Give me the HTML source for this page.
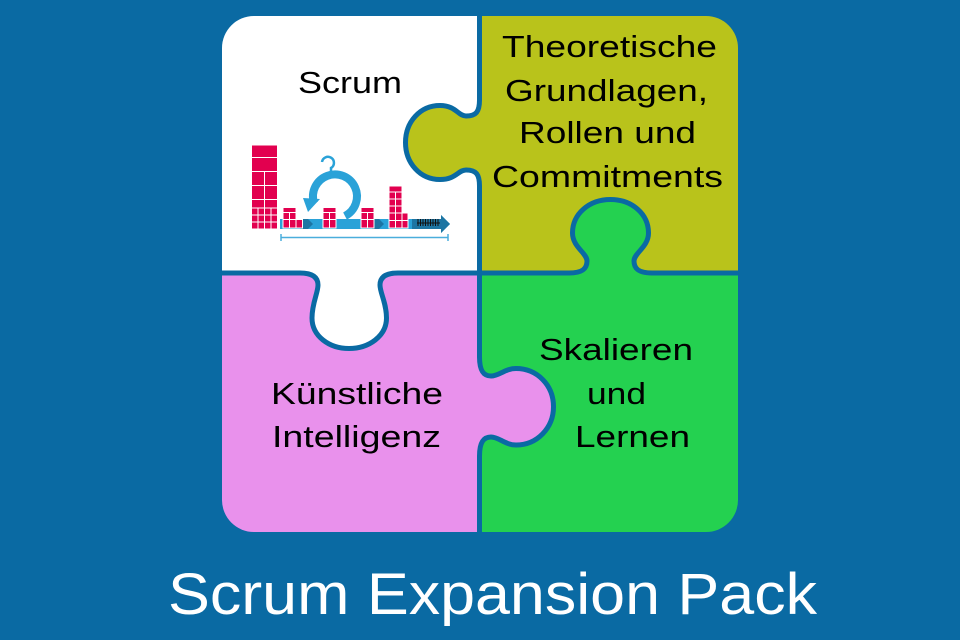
<!DOCTYPE html>
<html>
<head>
<meta charset="utf-8">
<style>
  html,body{margin:0;padding:0;background:#0a6aa3;}
  svg{display:block;}
  text{font-family:"Liberation Sans", Arial, sans-serif;}
</style>
</head>
<body>
<svg width="960" height="640" viewBox="0 0 960 640" xmlns="http://www.w3.org/2000/svg">
  <defs>
    <clipPath id="board">
      <rect x="222" y="16" width="516" height="516" rx="32" ry="32"/>
    </clipPath>
  </defs>
  <rect x="0" y="0" width="960" height="640" fill="#0a6aa3"/>

  <g clip-path="url(#board)">
    <!-- quadrants -->
    <rect x="222" y="16" width="258" height="258" fill="#ffffff"/>
    <rect x="480" y="16" width="258" height="258" fill="#b9c31b"/>
    <rect x="222" y="273" width="258" height="259" fill="#e991ec"/>
    <rect x="480" y="273" width="258" height="259" fill="#24d150"/>
    <!-- dividers -->
    <rect x="477" y="16" width="5" height="516" fill="#0a6aa3"/>
    <rect x="222" y="270.5" width="516" height="5" fill="#0a6aa3"/>

    <!-- olive knob into white (pointing left) -->
    <path d="M479.5 100 C479.5 112 476 116 466 116 C458 116 456 105.5 440 105.5 C420 105.5 405.5 122 405.5 142.5 C405.5 163 420 179.5 440 179.5 C456 179.5 458 170 466 170 C476 170 479.5 174 479.5 186 L487 186 L487 100 Z" fill="#b9c31b"/>
    <path d="M479.5 100 C479.5 112 476 116 466 116 C458 116 456 105.5 440 105.5 C420 105.5 405.5 122 405.5 142.5 C405.5 163 420 179.5 440 179.5 C456 179.5 458 170 466 170 C476 170 479.5 174 479.5 186" fill="none" stroke="#0a6aa3" stroke-width="5"/>

    <!-- green knob into olive (pointing up) -->
    <path d="M569 273 C582 273 587 269 587 261 C587 253 572.5 247 572.5 233 C572.5 214 589 199.5 610.5 199.5 C632 199.5 648.5 214 648.5 233 C648.5 247 634 253 634 261 C634 269 639 273 652 273 L652 281 L569 281 Z" fill="#24d150"/>
    <path d="M569 273 C582 273 587 269 587 261 C587 253 572.5 247 572.5 233 C572.5 214 589 199.5 610.5 199.5 C632 199.5 648.5 214 648.5 233 C648.5 247 634 253 634 261 C634 269 639 273 652 273" fill="none" stroke="#0a6aa3" stroke-width="5"/>

    <!-- white knob into pink (pointing down) -->
    <path d="M300 273 C312 273 318 277 318 285 C318 293 312 303 312 318 C312 336 329 348.5 349 348.5 C369 348.5 386.5 336 386.5 318 C386.5 303 380 293 380 285 C380 277 386 273 398 273 L398 265 L300 265 Z" fill="#ffffff"/>
    <path d="M300 273 C312 273 318 277 318 285 C318 293 312 303 312 318 C312 336 329 348.5 349 348.5 C369 348.5 386.5 336 386.5 318 C386.5 303 380 293 380 285 C380 277 386 273 398 273" fill="none" stroke="#0a6aa3" stroke-width="5"/>

    <!-- pink knob into green (pointing right) -->
    <path d="M479.5 357 C479.5 370 483 376 491 376 C499 376 505 368.5 516 368.5 C537 368.5 553.5 385 553.5 406.75 C553.5 428 537 445 516 445 C505 445 499 437 491 437 C483 437 479.5 443 479.5 456 L472 456 L472 357 Z" fill="#e991ec"/>
    <path d="M479.5 357 C479.5 370 483 376 491 376 C499 376 505 368.5 516 368.5 C537 368.5 553.5 385 553.5 406.75 C553.5 428 537 445 516 445 C505 445 499 437 491 437 C483 437 479.5 443 479.5 456" fill="none" stroke="#0a6aa3" stroke-width="5"/>
  </g>

  <!-- Scrum illustration -->
  <g>
    <!-- blue bar -->
    <rect x="280" y="219" width="162" height="10" fill="#2aa2d8"/>
    <polygon points="441,215 450,224 441,233" fill="#2aa2d8"/>
    <!-- darker arrows -->
    <polygon points="300,219 308,219 313,224 308,229 300,229" fill="#1d75a3"/>
    <polygon points="372,219 379,219 384,224 379,229 372,229" fill="#1d75a3"/>
    <rect x="412" y="219" width="30" height="10" fill="#1d75a3"/>
    <polygon points="441,215 450,224 441,233" fill="#1d75a3"/>
    <!-- hash marks -->
    <g stroke="#111" stroke-width="1">
      <line x1="418" y1="219" x2="418" y2="226"/><line x1="420.5" y1="219" x2="420.5" y2="226"/>
      <line x1="423" y1="219" x2="423" y2="226"/><line x1="425.5" y1="219" x2="425.5" y2="226"/>
      <line x1="428" y1="219" x2="428" y2="226"/><line x1="430.5" y1="219" x2="430.5" y2="226"/>
      <line x1="433" y1="219" x2="433" y2="226"/><line x1="435.5" y1="219" x2="435.5" y2="226"/>
      <line x1="438" y1="219" x2="438" y2="226"/>
      <line x1="417" y1="223" x2="440" y2="223"/>
    </g>
    <!-- thin timeline -->
    <g stroke="#4aaedc" stroke-width="1.5">
      <line x1="281" y1="237.5" x2="448" y2="237.5"/>
      <line x1="281" y1="234" x2="281" y2="241"/>
      <line x1="448" y1="234" x2="448" y2="241"/>
    </g>
    <!-- circular arrow -->
    <path d="M345 216 A22 22 0 1 0 314 203" fill="none" stroke="#2aa2d8" stroke-width="8"/>
    <polygon points="303,198 320,199 308,212" fill="#2aa2d8"/>
    <path d="M331 172 L331 168 A6 6 0 1 0 322 162" fill="none" stroke="#2aa2d8" stroke-width="2.5"/>

    <!-- tall red stack -->
    <g fill="#e2004f" stroke="#ffffff" stroke-width="1">
      <rect x="251.5" y="145" width="26" height="12.5"/>
      <rect x="251.5" y="157.5" width="26" height="14"/>
      <rect x="251.5" y="171.5" width="13" height="14"/>
      <rect x="264.5" y="171.5" width="13" height="14"/>
      <rect x="251.5" y="185.5" width="13" height="14"/>
      <rect x="264.5" y="185.5" width="13" height="14"/>
      <rect x="251.5" y="199.5" width="13" height="8.5"/>
      <rect x="264.5" y="199.5" width="13" height="8.5"/>
      <rect x="251.5" y="208" width="6.5" height="7"/><rect x="258" y="208" width="6.5" height="7"/>
      <rect x="264.5" y="208" width="6.5" height="7"/><rect x="271" y="208" width="6.5" height="7"/>
      <rect x="251.5" y="215" width="6.5" height="7"/><rect x="258" y="215" width="6.5" height="7"/>
      <rect x="264.5" y="215" width="6.5" height="7"/><rect x="271" y="215" width="6.5" height="7"/>
      <rect x="251.5" y="222" width="6.5" height="7"/><rect x="258" y="222" width="6.5" height="7"/>
      <rect x="264.5" y="222" width="6.5" height="7"/><rect x="271" y="222" width="6.5" height="7"/>

      <!-- stack A -->
      <rect x="283" y="207.5" width="13" height="5"/>
      <rect x="283" y="212.5" width="6.5" height="7"/><rect x="289.5" y="212.5" width="6.5" height="7"/>
      <rect x="283" y="219.5" width="6.5" height="8.5"/><rect x="289.5" y="219.5" width="6.5" height="8.5"/>
      <rect x="296" y="219.5" width="6.5" height="8.5"/>
      <!-- stack B -->
      <rect x="323" y="207.5" width="13" height="5"/>
      <rect x="323" y="212.5" width="6.5" height="7"/><rect x="329.5" y="212.5" width="6.5" height="7"/>
      <rect x="323" y="219.5" width="6.5" height="8.5"/><rect x="329.5" y="219.5" width="6.5" height="8.5"/>
      <!-- stack C -->
      <rect x="361" y="207.5" width="13" height="5"/>
      <rect x="361" y="212.5" width="6.5" height="7"/><rect x="367.5" y="212.5" width="6.5" height="7"/>
      <rect x="361" y="219.5" width="6.5" height="8.5"/><rect x="367.5" y="219.5" width="6.5" height="8.5"/>
      <!-- stack D -->
      <rect x="389" y="186" width="13" height="6"/>
      <rect x="389" y="192" width="6.5" height="7"/><rect x="395.5" y="192" width="6.5" height="7"/>
      <rect x="389" y="199" width="6.5" height="7"/><rect x="395.5" y="199" width="6.5" height="7"/>
      <rect x="389" y="206" width="6.5" height="7"/><rect x="395.5" y="206" width="6.5" height="7"/>
      <rect x="389" y="213" width="6.5" height="7.5"/><rect x="395.5" y="213" width="6.5" height="7.5"/>
      <rect x="402" y="213" width="6" height="7.5"/>
      <rect x="389" y="220.5" width="6.5" height="7.5"/><rect x="395.5" y="220.5" width="6.5" height="7.5"/>
      <rect x="402" y="220.5" width="6" height="7.5"/>
    </g>
  </g>

  <!-- piece labels -->
  <g fill="#000000" font-size="31">
    <text x="298" y="93" textLength="104" lengthAdjust="spacingAndGlyphs">Scrum</text>
    <text x="502" y="57" textLength="215" lengthAdjust="spacingAndGlyphs">Theoretische</text>
    <text x="505" y="101" textLength="203" lengthAdjust="spacingAndGlyphs">Grundlagen,</text>
    <text x="519" y="143" textLength="177" lengthAdjust="spacingAndGlyphs">Rollen und</text>
    <text x="492" y="187" textLength="231" lengthAdjust="spacingAndGlyphs">Commitments</text>
    <text x="539" y="360" textLength="154" lengthAdjust="spacingAndGlyphs">Skalieren</text>
    <text x="587" y="404" textLength="59" lengthAdjust="spacingAndGlyphs">und</text>
    <text x="575" y="447" textLength="115" lengthAdjust="spacingAndGlyphs">Lernen</text>
    <text x="271" y="404" textLength="172" lengthAdjust="spacingAndGlyphs">Künstliche</text>
    <text x="272" y="447" textLength="169" lengthAdjust="spacingAndGlyphs">Intelligenz</text>
  </g>

  <!-- title -->
  <text x="168" y="614" font-size="58" fill="#ffffff" textLength="649" lengthAdjust="spacingAndGlyphs">Scrum Expansion Pack</text>
</svg>
</body>
</html>
